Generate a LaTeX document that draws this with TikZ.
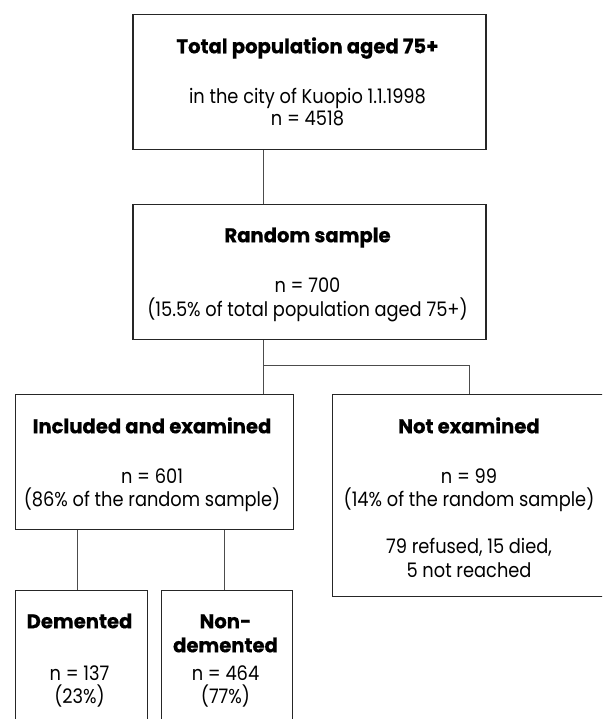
\documentclass[tikz,border=0pt]{standalone}
\usepackage{fontspec}
\setmainfont{Poppins}[FakeStretch=0.89]
\newfontfamily\ttlfont{Poppins}[FakeStretch=0.98, BoldFeatures={FakeBold=0.5}]
\begin{document}
\begin{tikzpicture}[x=1pt,y=-1pt,
  box/.style={draw=black!85, line width=1.2pt, inner sep=0pt, anchor=north west},
  conn/.style={draw=black!70, line width=0.9pt},
  txt/.style={anchor=base, inner sep=0pt, font=\fontsize{20}{24}\selectfont},
  ttl/.style={anchor=base, inner sep=0pt, font=\fontsize{20}{24}\selectfont\ttlfont\bfseries}]
\useasboundingbox (0,0) rectangle (602,719);
\clip (0,0) rectangle (602,719);
% boxes
\node[box, minimum width=353.1pt, minimum height=135pt] (top) at (132.3,14) {};
\node[box, minimum width=353.1pt, minimum height=134.7pt] (rand) at (132.3,204) {};
\node[box, minimum width=278.4pt, minimum height=135pt] (incl) at (14.6,394) {};
\node[box, minimum width=274pt, minimum height=202pt] (notex) at (332,394) {};
\node[box, minimum width=131.9pt, minimum height=170pt] (dem) at (14.6,590) {};
\node[box, minimum width=131.2pt, minimum height=170pt] (non) at (160.8,590) {};
% texts
\node[ttl] (t1) at (307.5,53.3) {Total population aged 75+};
\node[txt] (t2) at (307.5,103.3) {in the city of Kuopio 1.1.1998};
\node[txt] (t3) at (307.5,126) {n = 4518};
\node[ttl] (r1) at (307.5,242.3) {Random sample};
\node[txt] (r2) at (307.5,292.3) {n = 700};
\node[txt] (r3) at (307.5,316.7) {(15.5\% of total population aged 75+)};
\node[ttl] (i1) at (152,433.3) {Included and examined};
\node[txt] (i2) at (152,483.3) {n = 601};
\node[txt] (i3) at (152,506.7) {(86\% of the random sample)};
\node[ttl] (n1) at (469,433.3) {Not examined};
\node[txt] (n2) at (469,483.3) {n = 99};
\node[txt] (n3) at (469,506.7) {(14\% of the random sample)};
\node[txt] (n4) at (469,553.3) {79 refused, 15 died,};
\node[txt] (n5) at (469,577.3) {5 not reached};
\node[ttl] (d1) at (79.5,628.3) {Demented};
\node[txt] (d2) at (79.5,680.7) {n = 137};
\node[txt] (d3) at (79.5,703.3) {(23\%)};
\node[ttl] (m1) at (225.5,628.3) {Non-};
\node[ttl] (m2) at (225.5,652.3) {demented};
\node[txt] (m3) at (225.5,680.7) {n = 464};
\node[txt] (m4) at (225.5,703.3) {(77\%)};
% connectors
\coordinate (c1) at (263,0);
\coordinate (hy) at (0,365.7);
\coordinate (c2) at (77,0);
\coordinate (c3) at (224,0);
\draw[conn] (top.south -| c1) -- (rand.north -| c1);
\draw[conn] (rand.south -| c1) -- (incl.north -| c1);
\draw[conn] (hy -| c1) -| (notex.north);
\draw[conn] (incl.south -| c2) -- (dem.north -| c2);
\draw[conn] (incl.south -| c3) -- (non.north -| c3);
\end{tikzpicture}
\end{document}
